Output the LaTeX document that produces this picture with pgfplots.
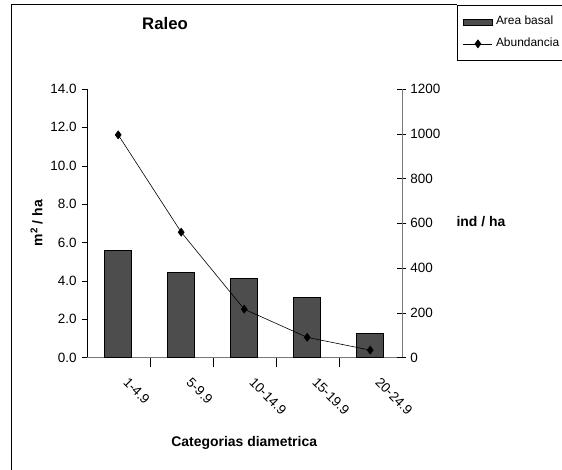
\documentclass[border=0pt]{standalone}
\usepackage{pgfplots}
\pgfplotsset{compat=1.18}
\usepackage{fontspec}
\setmainfont{Liberation Sans}
\definecolor{barfill}{RGB}{77,77,77}
\definecolor{axgray}{RGB}{120,120,120}
\newcommand{\lblfont}{\bfseries\fontsize{14}{17}\selectfont}
\newcommand{\tickfont}{\fontsize{13.5}{16}\selectfont}
\pgfplotsset{
  barlegend/.style={legend image code/.code={\draw[fill=barfill, draw=black, line width=0.6bp] (0bp,-3bp) rectangle (29bp,3bp);}},
  linelegend/.style={legend image code/.code={\draw[mark repeat=2, mark phase=2, ##1] plot coordinates {(0bp,0bp) (14.5bp,0bp) (29bp,0bp)};}},
  common/.style={
    at={(86.7bp,112.5bp)}, anchor=south west,
    scale only axis, width=315bp, height=268.5bp,
    xmin=-0.5, xmax=4.5,
    /pgf/number format/assume math mode=true,
  }
}
\begin{document}
\begin{tikzpicture}[x=1bp,y=1bp]
\useasboundingbox (0,0) rectangle (562,470);
\clip (0,0) rectangle (562,470);
\draw[black, line width=1bp] (11,0) -- (11,465) -- (457,465);
\begin{axis}[common,
  ymin=0, ymax=14,
  axis y line*=left, axis x line*=bottom,
  x axis line style={draw=axgray, -},
  y axis line style={draw=black, -},
  xtick={0,...,4},
  xticklabels={1-4.9,5-9.9,10-14.9,15-19.9,20-24.9},
  major x tick style={draw=none},
  minor xtick={0.5,1.5,2.5,3.5},
  minor x tick style={draw=black, thin},
  minor tick length=10bp,
  xticklabel style={font=\tickfont, inner sep=0pt, xshift=11bp, yshift=-14bp, rotate=-45, anchor=north west},
  ytick={0,2,...,14},
  yticklabel={\tickfont\pgfmathprintnumber[fixed, fixed zerofill, precision=1]{\tick}},
  yticklabel style={font=\tickfont, inner sep=5bp},
  y tick style={draw=black, thin},
  tick align=outside, major tick length=5bp,
  xlabel={Categorias diametrica},
  ylabel={m\textsuperscript{2} / ha},
  every axis x label/.style={at={(axis description cs:0.5,-0.318)}, anchor=center, font=\lblfont},
  every axis y label/.style={at={(axis description cs:-0.159,0.5)}, rotate=90, anchor=center, font=\lblfont},
  title={Raleo},
  title style={at={(axis description cs:0.2486,1.22)}, anchor=center, font=\bfseries\fontsize{16.8}{20}\selectfont},
]
\addplot[ybar, bar width=27bp, fill=barfill, draw=black, line width=0.6bp] coordinates {(0,5.6) (1,4.42) (2,4.13) (3,3.13) (4,1.27)};
\end{axis}
\begin{axis}[common,
  ymin=0, ymax=1200,
  axis y line*=right, axis x line=none,
  y axis line style={draw=axgray, -},
  ytick={0,200,...,1200},
  yticklabel={\tickfont\pgfmathprintnumber[1000 sep={}]{\tick}},
  yticklabel style={font=\tickfont, inner sep=2bp, xshift=2bp},
  y tick style={draw=black, thin},
  tick align=center, major tick length=9bp,
  ylabel={ind / ha},
  every axis y label/.style={at={(axis description cs:1.163,0.508)}, anchor=west, font=\lblfont},
  legend style={at={(axis description cs:1.1756,1.3128)}, anchor=north west,
    draw=black, line width=0.8bp, fill=white,
    inner xsep=5.7bp, inner ysep=11bp, row sep=11bp, column sep=3.3bp,
    font=\fontsize{12}{14}\selectfont,
    nodes={inner sep=0pt, text height=8.5bp, text depth=2.5bp}},
  legend cell align=left,
]
\addlegendimage{barlegend}
\addlegendentry{Area basal}
\addplot[black, line width=0.6bp, mark=diamond*, mark size=4bp, linelegend]
  coordinates {(0,995) (1,560) (2,216) (3,90) (4,33)};
\addlegendentry{Abundancia\hspace*{25bp}}
\end{axis}
\end{tikzpicture}
\end{document}
